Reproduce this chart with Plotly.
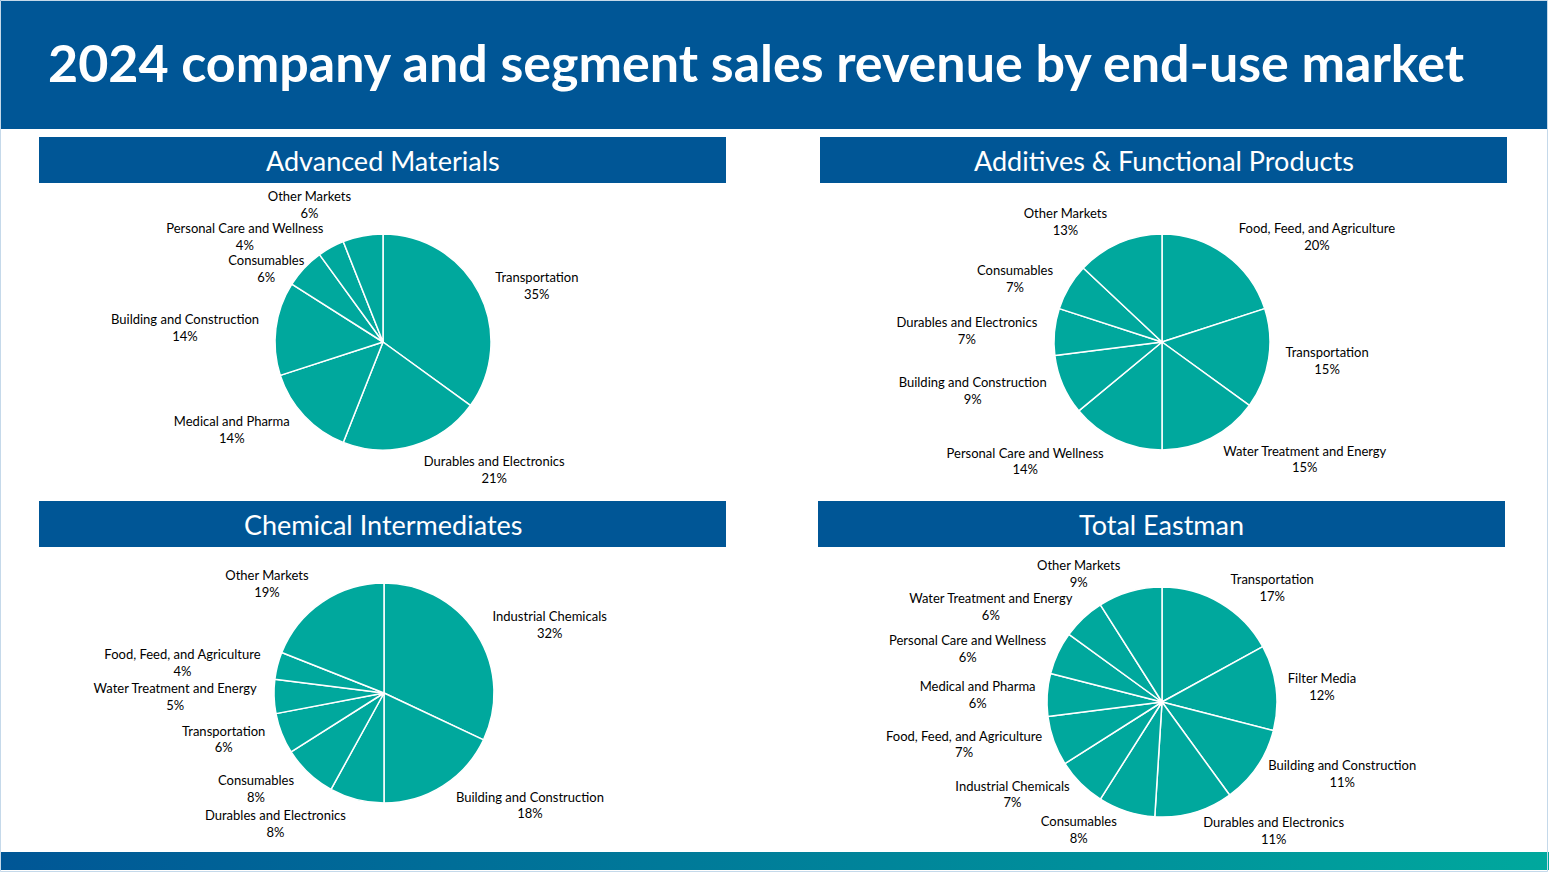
import plotly.graph_objects as go

W, H = 1549, 873
BLUE = "#005696"
TEAL = "#00A89D"
FONT = "Lato"

title = "2024 company and segment sales revenue by end-use market"

# Advanced Materials
am_labels = ["Transportation", "Durables and Electronics", "Medical and Pharma",
             "Building and Construction", "Consumables", "Personal Care and Wellness",
             "Other Markets"]
am_values = [35, 21, 14, 14, 6, 4, 6]

# Additives & Functional Products
afp_labels = ["Food, Feed, and Agriculture", "Transportation", "Water Treatment and Energy",
              "Personal Care and Wellness", "Building and Construction",
              "Durables and Electronics", "Consumables", "Other Markets"]
afp_values = [20, 15, 15, 14, 9, 7, 7, 13]

# Chemical Intermediates
ci_labels = ["Industrial Chemicals", "Building and Construction", "Durables and Electronics",
             "Consumables", "Transportation", "Water Treatment and Energy",
             "Food, Feed, and Agriculture", "Other Markets"]
ci_values = [32, 18, 8, 8, 6, 5, 4, 19]

# Total Eastman
te_labels = ["Transportation", "Filter Media", "Building and Construction",
             "Durables and Electronics", "Consumables", "Industrial Chemicals",
             "Food, Feed, and Agriculture", "Medical and Pharma",
             "Personal Care and Wellness", "Water Treatment and Energy", "Other Markets"]
te_values = [17, 12, 11, 11, 8, 7, 7, 6, 6, 6, 9]

panel_titles = ["Advanced Materials", "Additives & Functional Products",
                "Chemical Intermediates", "Total Eastman"]
panel_data = [(am_labels, am_values), (afp_labels, afp_values),
              (ci_labels, ci_values), (te_labels, te_values)]

# layout in pixels: pie centre/radius and header bar box
pie_geo = [(383, 342, 108), (1162, 342, 108), (384, 693, 110), (1162, 702, 115)]
bars = [(39, 726, 137, 183), (820, 1507, 137, 183), (39, 726, 501, 547), (818, 1505, 501, 547)]
# how far out (x pie radius) the labels sit; a few crowded ones are nudged
label_ring = [1.08, 1.08, 1.08, 1.03]
ring_nudge = [{"Consumables": 0.89, "Personal Care and Wellness": 0.98, "Other Markets": 1.15},
              {}, {}, {}]


def px(x):
    return x / W


def py(y):
    return 1 - y / H


def dom(cx, cy, r):
    return dict(x=[px(cx - r), px(cx + r)], y=[py(cy + r), py(cy - r)])


fig = go.Figure()

for p, ((labels, values), (cx, cy, r)) in enumerate(zip(panel_data, pie_geo)):
    # visible pie
    fig.add_trace(go.Pie(
        labels=labels, values=values, domain=dom(cx, cy, r),
        marker=dict(colors=[TEAL] * len(values), line=dict(color="white", width=1.5)),
        textinfo="none", sort=False, direction="clockwise", rotation=0,
        showlegend=False,
        hovertemplate="%{label}: %{value}%<extra></extra>",
    ))
    # one transparent pie per label, so each label sits where its slice points
    for i, lab in enumerate(labels):
        f = ring_nudge[p].get(lab, label_ring[p])
        fig.add_trace(go.Pie(
            labels=labels, values=values, domain=dom(cx, cy, r * f),
            marker=dict(colors=["rgba(0,0,0,0)"] * len(values), line=dict(width=0)),
            textposition=["outside" if j == i else "none" for j in range(len(values))],
            texttemplate="%{label}<br>%{value}%",
            outsidetextfont=dict(family=FONT, size=13, color="black"),
            sort=False, direction="clockwise", rotation=0,
            showlegend=False, hoverinfo="skip",
        ))

# bottom gradient strip
fig.add_trace(go.Scatter(
    x=[0, 1, 1, 0, 0], y=[py(870), py(870), py(852), py(852), py(870)],
    mode="lines", fill="toself", line=dict(width=0),
    fillgradient=dict(type="horizontal", colorscale=[[0, BLUE], [1, TEAL]]),
    hoverinfo="skip", showlegend=False,
))

shapes = [
    dict(type="rect", xref="paper", yref="paper", x0=0, x1=px(1547), y0=py(129), y1=1,
         fillcolor=BLUE, line=dict(width=0), layer="below"),
    dict(type="rect", xref="paper", yref="paper", x0=px(0.5), x1=px(1547.5), y0=py(871.5), y1=py(0.5),
         line=dict(color="#C5D9EA", width=1), layer="above"),
]
annotations = [
    dict(text="<b>" + title + "</b>", xref="paper", yref="paper", x=px(46), y=py(62),
         xanchor="left", yanchor="middle", showarrow=False,
         font=dict(family=FONT, size=52, color="white")),
]
for name, (x0, x1, y0, y1) in zip(panel_titles, bars):
    shapes.append(dict(type="rect", xref="paper", yref="paper", x0=px(x0), x1=px(x1),
                       y0=py(y1), y1=py(y0), fillcolor=BLUE, line=dict(width=0), layer="below"))
    annotations.append(dict(text=name, xref="paper", yref="paper", x=px((x0 + x1) / 2),
                            y=py((y0 + y1) / 2), xanchor="center", yanchor="middle",
                            showarrow=False, font=dict(family=FONT, size=27, color="white")))

fig.update_layout(
    width=W, height=H,
    margin=dict(l=0, r=0, t=0, b=0),
    paper_bgcolor="white", plot_bgcolor="rgba(0,0,0,0)",
    xaxis=dict(visible=False, range=[0, 1], domain=[0, 1], fixedrange=True),
    yaxis=dict(visible=False, range=[0, 1], domain=[0, 1], fixedrange=True),
    shapes=shapes, annotations=annotations,
    font=dict(family=FONT),
)

fig.write_html("out.html", config={"displayModeBar": False},
               post_script="document.body.style.margin='0px';")
